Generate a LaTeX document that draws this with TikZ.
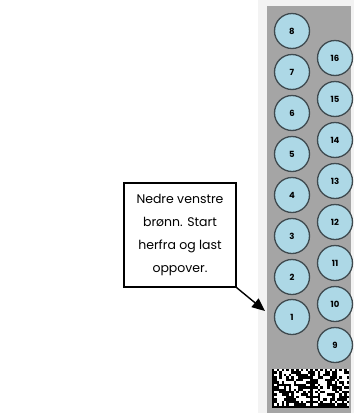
\documentclass[tikz,border=0pt]{standalone}
\usepackage{fontspec}
\setmainfont{Poppins}
\usetikzlibrary{arrows.meta}
\definecolor{panelgray}{HTML}{A5A5A5}
\definecolor{wellblue}{HTML}{ADD8E6}
\definecolor{wellrim}{HTML}{3F4A4F}
\definecolor{framegray}{HTML}{F3F3F3}
\tikzset{
  well/.style={circle, draw=wellrim, line width=1.3pt, fill=wellblue, minimum size=35pt, inner sep=0pt, font=\fontsize{8.5}{9}\selectfont\bfseries},
  callout/.style={draw=black, line width=1.3pt, fill=white, minimum width=112pt, minimum height=104pt, align=center, inner sep=0pt, font=\fontsize{12.5}{23}\selectfont},
  pointer/.style={line width=1.4pt, -{Triangle[length=13pt,width=11pt]}}
}
\begin{document}
\begin{tikzpicture}[x=1pt,y=-1pt]
\useasboundingbox (0,0) rectangle (354,413);
\fill[white] (0,0) rectangle (354,413);
\fill[framegray] (258,0) rectangle (354,413);
\fill[panelgray] (267,6) rectangle (351,413);
% wells left column 1..8
\foreach \n/\y in {1/317,2/277,3/236,4/195,5/154,6/113,7/72,8/31}
  \node[well] (c\n) at (292,\y) {\n};
% wells right column 9..16
\foreach \n/\y in {9/345,10/304,11/263,12/222,13/181,14/140,15/99,16/58}
  \node[well] (c\n) at (335,\y) {\n};
% data matrix code
\fill[white] (272,369) rectangle (349,408);
\pgfmathsetseed{7}
\foreach \h in {0,1}{
  \foreach \i in {0,...,15}{
    \foreach \j in {0,...,15}{
      \pgfmathtruncatemacro\b{((\i==0)||(\j==15)||((\j==0)&&(mod(\i,2)==0))||((\i==15)&&(mod(\j,2)==1))||((\i>0)&&(\i<15)&&(\j>0)&&(\j<15)&&(rnd<0.5)))?1:0}
      \ifnum\b=1
        \fill[black] ({272+(\h*16+\i)*2.406},{369+\j*2.44}) rectangle ++(2.45,2.48);
      \fi
    }
  }
}
% callout
\node[callout] (note) at (180,235) {Nedre venstre\\brønn. Start\\herfra og last\\oppover.};
\coordinate (tip) at (265,311);
\draw[pointer] (note.south east) -- (tip);
\end{tikzpicture}
\end{document}
